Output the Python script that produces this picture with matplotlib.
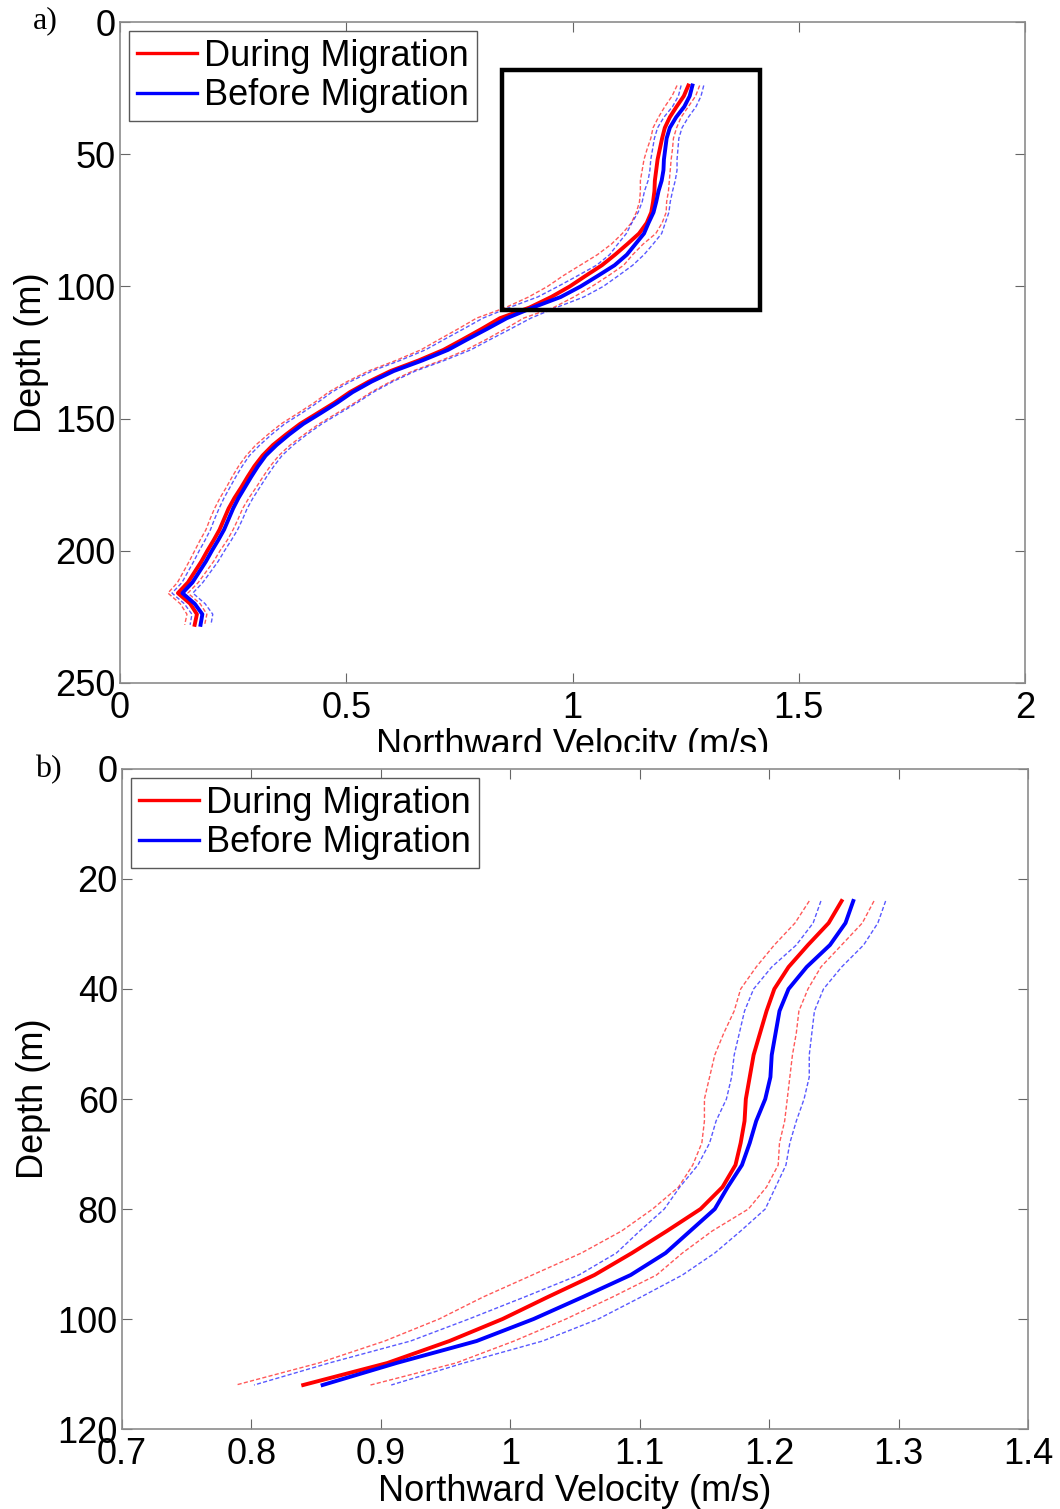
import numpy as np
import matplotlib
matplotlib.use('Agg')
from matplotlib import pyplot as plt
from matplotlib.patches import Rectangle
from matplotlib.ticker import FormatStrFormatter

# depth bins (m)
depth = [24, 28, 32, 36, 40, 44, 48, 52, 56, 60, 64, 68, 72, 76, 80, 84,
         88, 92, 96, 100, 104, 108, 112, 116, 120, 124, 128, 132, 136, 140,
         144, 148, 152, 156, 160, 164, 168, 172, 176, 180, 184, 188, 192,
         196, 200, 204, 208, 212, 216, 220, 224, 228]

# mean northward velocity (m/s)
during = [1.256, 1.246, 1.230, 1.215, 1.204, 1.198, 1.193, 1.188, 1.185,
          1.182, 1.181, 1.178, 1.174, 1.164, 1.147, 1.121, 1.094, 1.065,
          1.029, 0.994, 0.953, 0.905, 0.840,
          0.800, 0.758, 0.715, 0.660, 0.598, 0.550, 0.508, 0.474, 0.436,
          0.398, 0.367, 0.338, 0.315, 0.297, 0.282, 0.268, 0.253, 0.240,
          0.230, 0.220, 0.207, 0.193, 0.180, 0.165, 0.150, 0.128, 0.155,
          0.170, 0.165]
before = [1.265, 1.259, 1.247, 1.229, 1.215, 1.208, 1.205, 1.202, 1.201,
          1.197, 1.190, 1.185, 1.179, 1.168, 1.158, 1.139, 1.120, 1.093,
          1.056, 1.018, 0.974, 0.912, 0.855,
          0.812, 0.768, 0.725, 0.668, 0.605, 0.556, 0.514, 0.480, 0.443,
          0.405, 0.374, 0.346, 0.322, 0.305, 0.290, 0.276, 0.262, 0.250,
          0.240, 0.230, 0.217, 0.203, 0.190, 0.175, 0.160, 0.138, 0.165,
          0.182, 0.178]

# spread shown by the dashed lines (m/s)
during_sd = [0.025, 0.026, 0.026, 0.025, 0.026, 0.025, 0.028, 0.030, 0.031,
             0.032, 0.031, 0.030, 0.033, 0.034, 0.037, 0.035, 0.039, 0.048,
             0.050, 0.049, 0.050, 0.053, 0.052,
             0.052, 0.052, 0.050, 0.050, 0.049, 0.048, 0.047, 0.045, 0.043,
             0.042, 0.040, 0.038, 0.036, 0.035, 0.034, 0.033, 0.032, 0.031,
             0.031, 0.030, 0.030, 0.028, 0.027, 0.025, 0.023, 0.022, 0.022,
             0.022, 0.022]
before_sd = [0.025, 0.025, 0.026, 0.027, 0.027, 0.027, 0.028, 0.029, 0.030,
             0.030, 0.031, 0.031, 0.034, 0.037, 0.039, 0.039, 0.038, 0.040,
             0.045, 0.050, 0.051, 0.052, 0.053,
             0.052, 0.051, 0.050, 0.049, 0.048, 0.047, 0.046, 0.044, 0.042,
             0.041, 0.039, 0.037, 0.036, 0.035, 0.034, 0.033, 0.032, 0.031,
             0.031, 0.030, 0.029, 0.028, 0.027, 0.025, 0.023, 0.023, 0.023,
             0.023, 0.023]

zoom_x = [0.845, 1.414]
zoom_depth = [18, 109]

labels = ['During Migration', 'Before Migration']
xticks_a = [0, 0.5, 1, 1.5, 2]
yticks_a = [0, 50, 100, 150, 200, 250]
xticks_b = [0.7, 0.8, 0.9, 1.0, 1.1, 1.2, 1.3, 1.4]
yticks_b = [0, 20, 40, 60, 80, 100, 120]

plt.rcParams['font.family'] = ['Liberation Sans', 'DejaVu Sans']
FS = 26

depth = np.array(depth)
during, before = np.array(during), np.array(before)
during_sd, before_sd = np.array(during_sd), np.array(before_sd)

fig = plt.figure(figsize=(10.6, 15.09), dpi=100)
ax_a = fig.add_axes([0.1132, 0.5474, 0.8538, 0.4380])
ax_b = fig.add_axes([0.1151, 0.0530, 0.8547, 0.4374])
ax_b.set_zorder(2)

# white band hides the bottom of panel a's x label, as in the original figure
fig.patches.append(Rectangle((0, 0), 1, 0.5017, transform=fig.transFigure,
                             facecolor='white', edgecolor='none', zorder=1))


def draw_profiles(ax, mask):
    d = depth[mask]
    dash = (0, (3, 1.6))
    ax.plot(during[mask], d, c='red', lw=2.8, label=labels[0], zorder=3)
    ax.plot(before[mask], d, c='blue', lw=2.8, label=labels[1], zorder=3)
    for mean, sd, col in [(during, during_sd, 'red'), (before, before_sd, 'blue')]:
        ax.plot(mean[mask] - sd[mask], d, c=col, lw=1.0, ls=dash, alpha=0.65, zorder=4)
        ax.plot(mean[mask] + sd[mask], d, c=col, lw=1.0, ls=dash, alpha=0.65, zorder=4)


def style(ax, xt, yt, xlim, ylim):
    ax.set_xlim(xlim)
    ax.set_ylim(ylim)
    ax.set_xticks(xt)
    ax.set_yticks(yt)
    ax.xaxis.set_major_formatter(FormatStrFormatter('%g'))
    ax.tick_params(direction='in', top=True, right=True, length=7,
                   width=0.8, color='0.4', labelsize=FS)
    ax.tick_params(axis='x', pad=6)
    ax.tick_params(axis='y', pad=3)
    for s in ax.spines.values():
        s.set_color('0.55')
        s.set_linewidth(1.2)
    ax.set_xlabel('Northward Velocity (m/s)', fontsize=FS, labelpad=1)
    ax.set_ylabel('Depth (m)', fontsize=FS, labelpad=5)
    leg = ax.legend(loc='upper left', fontsize=FS, handlelength=1.65,
                    handletextpad=0.2, labelspacing=0.12, borderpad=0.22,
                    borderaxespad=0.25, fancybox=False, framealpha=1)
    leg.get_frame().set_edgecolor('0.35')
    leg.get_frame().set_linewidth(1.0)
    for h in leg.get_lines():
        h.set_linewidth(2.4)


draw_profiles(ax_a, depth > 0)
style(ax_a, xticks_a, yticks_a, (0, 2), (250, 0))
ax_a.add_patch(Rectangle((zoom_x[0], zoom_depth[0]), zoom_x[1] - zoom_x[0],
                         zoom_depth[1] - zoom_depth[0], fill=False,
                         edgecolor='black', lw=3.2, zorder=5))

draw_profiles(ax_b, depth <= 112)
style(ax_b, xticks_b, yticks_b, (0.7, 1.4), (120, 0))

fig.text(0.043, 0.986, 'a)', fontsize=23, family='Liberation Serif', va='center', ha='center')
fig.text(0.046, 0.490, 'b)', fontsize=23, family='Liberation Serif', va='center', ha='center')

fig.savefig('out.png', dpi=100, facecolor='white')
